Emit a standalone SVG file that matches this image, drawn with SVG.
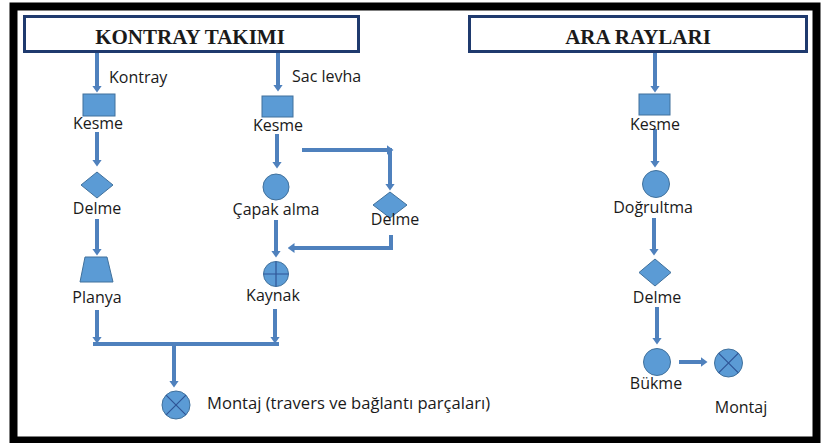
<svg xmlns="http://www.w3.org/2000/svg" width="827" height="443" viewBox="0 0 827 443">
<defs>
<style>
.frame{fill:none;stroke:#000;stroke-width:8}
.title{fill:#fff;stroke:#1F3A6E;stroke-width:3}
.ttl{font-family:"Liberation Serif","Times New Roman",serif;font-weight:bold;font-size:21px;fill:#1a1a1a;text-anchor:middle}
.lbl{font-family:"Open Sans","Noto Sans",sans-serif;font-size:16px;fill:#1a1a1a}
.c{text-anchor:middle}
.shp{fill:#5B9BD5;stroke:#41719C;stroke-width:1}
.sym{stroke:#2F5597;stroke-width:1.2;fill:none}
.ln{fill:none;stroke:#4F81BD;stroke-width:4}
.ar{fill:none;stroke:#4F81BD;stroke-width:4;marker-end:url(#ah)}
</style>
<marker id="ah" viewBox="0 0 7 10" refX="0.5" refY="5" markerWidth="7" markerHeight="10" markerUnits="userSpaceOnUse" orient="auto">
<path d="M0,0 L7,5 L0,10 z" fill="#4F81BD"/>
</marker>
</defs>
<rect width="827" height="443" fill="#fff"/>
<rect class="frame" x="13.5" y="6.5" width="803" height="434"/>

<g id="title-kontray">
<rect class="title" x="24.5" y="16.5" width="334" height="35"/>
<text class="ttl" x="190" y="44">KONTRAY TAKIMI</text>
</g>
<g id="title-ara">
<rect class="title" x="469.5" y="16.5" width="337" height="35"/>
<text class="ttl" x="638" y="44">ARA RAYLARI</text>
</g>

<g id="connectors">
<line class="ar" x1="97" y1="53" x2="97" y2="86"/>
<line class="ar" x1="278" y1="53" x2="278" y2="85"/>
<line class="ar" x1="97" y1="132" x2="97" y2="160"/>
<line class="ar" x1="97" y1="219" x2="97" y2="249"/>
<line class="ar" x1="277" y1="134" x2="277" y2="162"/>
<line class="ar" x1="302" y1="150" x2="387" y2="150"/>
<line class="ar" x1="390" y1="148" x2="390" y2="184"/>
<line class="ar" x1="276" y1="220" x2="276" y2="251"/>
<path class="ln" d="M391,235 V248"/>
<line class="ar" x1="393" y1="248" x2="294" y2="248"/>
<line class="ar" x1="97" y1="310" x2="97" y2="337"/>
<line class="ar" x1="275" y1="309" x2="275" y2="337"/>
<line class="ln" x1="93" y1="344" x2="279" y2="344"/>
<line class="ar" x1="174" y1="344" x2="174" y2="381"/>
<line class="ar" x1="655" y1="53" x2="655" y2="86"/>
<line class="ar" x1="655" y1="129" x2="655" y2="161"/>
<line class="ar" x1="654" y1="218" x2="654" y2="249"/>
<line class="ar" x1="657" y1="307" x2="657" y2="338"/>
<line class="ar" x1="679" y1="362" x2="701" y2="362"/>
</g>

<g id="kontray-label"><text class="lbl" x="109" y="83">Kontray</text></g>
<g id="saclevha-label"><text class="lbl" x="292" y="82">Sac levha</text></g>

<g id="kesme-1">
<rect class="shp" x="83" y="94" width="32" height="22"/>
<text class="lbl c" x="98" y="129">Kesme</text>
</g>
<g id="delme-1">
<polygon class="shp" points="97,172 113,185 97,198 81,185"/>
<text class="lbl c" x="97" y="214">Delme</text>
</g>
<g id="planya">
<polygon class="shp" points="85,257 107,257 113,282 80,282"/>
<text class="lbl c" x="97" y="303">Planya</text>
</g>

<g id="kesme-2">
<rect class="shp" x="262" y="96" width="31" height="21"/>
<text class="lbl c" x="278" y="131">Kesme</text>
</g>
<g id="capak-alma">
<circle class="shp" cx="276" cy="187" r="13"/>
<text class="lbl c" x="276" y="215">Çapak alma</text>
</g>
<g id="delme-2">
<polygon class="shp" points="390,192 407,205 390,218 373,205"/>
<text class="lbl c" x="395" y="225">Delme</text>
</g>
<g id="kaynak">
<circle class="shp" cx="276" cy="274" r="12.5"/>
<path class="sym" d="M263.5,274 H288.5 M276,261.5 V286.5"/>
<text class="lbl c" x="273" y="301">Kaynak</text>
</g>
<g id="montaj-1">
<circle class="shp" cx="176" cy="405" r="14"/>
<path class="sym" d="M166.1,395.1 L185.9,414.9 M185.9,395.1 L166.1,414.9"/>
<text class="lbl" x="207" y="409" style="font-size:16.6px">Montaj (travers ve bağlantı parçaları)</text>
</g>

<g id="kesme-3">
<rect class="shp" x="639" y="94" width="31" height="21"/>
<text class="lbl c" x="655" y="130">Kesme</text>
</g>
<g id="dogrultma">
<circle class="shp" cx="656" cy="184" r="13.5"/>
<text class="lbl c" x="653" y="213">Doğrultma</text>
</g>
<g id="delme-3">
<polygon class="shp" points="655,259 671,272.5 655,286 639,272.5"/>
<text class="lbl c" x="657" y="303">Delme</text>
</g>
<g id="bukme">
<circle class="shp" cx="657" cy="362" r="13.5"/>
<text class="lbl c" x="656" y="389">Bükme</text>
</g>
<g id="montaj-2">
<circle class="shp" cx="728.5" cy="363" r="14"/>
<path class="sym" d="M718.6,353.1 L738.4,372.9 M738.4,353.1 L718.6,372.9"/>
<text class="lbl c" x="741" y="413">Montaj</text>
</g>
</svg>
